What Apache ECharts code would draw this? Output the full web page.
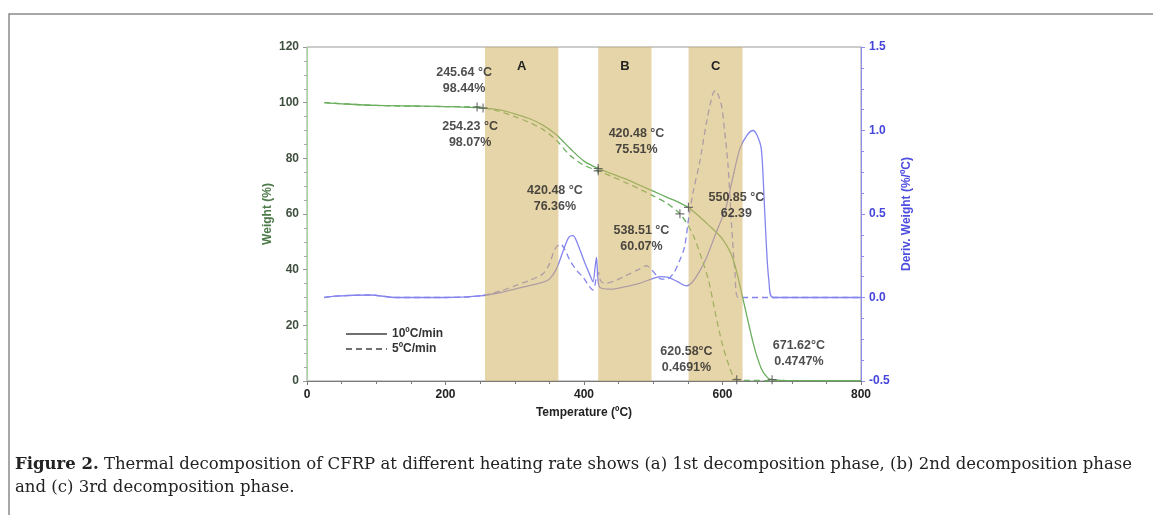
<!DOCTYPE html>
<html><head><meta charset="utf-8">
<script src="https://cdn.jsdelivr.net/npm/echarts@6/dist/echarts.min.js"></script>
<style>html,body{margin:0;padding:0;background:#fff;}#c{width:1153px;height:515px;}</style>
</head><body><div id="c"></div>
<script>
// TG weight loss (%) vs temperature (°C)
const tg10 = [[25,100],[50,99.6],[100,99.0],[150,98.8],[200,98.6],[254.23,98.07],[280,97.3],[300,96],[320,94.4],[340,92],[360,88.5],[380,83.5],[400,79],[420.48,76.36],[440,74.5],[460,72.6],[480,70.4],[500,68.2],[520,66],[540,63.8],[550.85,62.39],[560,60.5],[580,56],[600,51],[615,44],[630,29],[645,13],[656,4.5],[665,1.2],[671.62,0.47],[690,0.2],[800,0.1]];
const tg5 = [[25,100],[100,99],[200,98.6],[245.64,98.44],[270,97.4],[300,95],[320,93],[340,90.5],[360,86.5],[380,81],[400,77.5],[420.48,75.51],[440,73.5],[460,71.3],[480,69],[500,66.5],[520,63.8],[538.51,60.07],[550,56],[560,51],[570,44],[580,36],[590,24],[600,13],[610,5],[615,2],[620.58,0.47],[640,0.2],[800,0.1]];
// DTG (%/°C)
const dtg10 = [[25,0],[40,0.008],[90,0.015],[130,0.0],[200,0.0],[250,0.01],[280,0.03],[300,0.05],[320,0.07],[340,0.09],[350,0.11],[360,0.17],[370,0.28],[378,0.36],[384,0.37],[390,0.33],[400,0.22],[408,0.14],[413,0.094],[416,0.18],[418,0.24],[420,0.12],[423,0.06],[440,0.05],[460,0.065],[480,0.085],[497,0.11],[510,0.125],[522,0.12],[535,0.095],[548,0.07],[556,0.09],[566,0.15],[577,0.24],[590,0.38],[605,0.54],[615,0.72],[625,0.89],[635,0.97],[644,1.0],[650,0.97],[656,0.89],[660,0.6],[663,0.34],[667,0.1],[673,0],[800,0]];
const dtg5 = [[25,0],[40,0.008],[90,0.015],[130,0],[200,0],[250,0.01],[280,0.04],[300,0.07],[320,0.1],[340,0.14],[350,0.2],[358,0.29],[366,0.32],[372,0.29],[380,0.22],[390,0.16],[399,0.12],[407,0.07],[413,0.045],[418,0.12],[421,0.15],[424,0.1],[430,0.085],[445,0.1],[460,0.13],[480,0.17],[490,0.19],[497,0.17],[505,0.13],[512,0.11],[520,0.11],[530,0.15],[538,0.22],[545,0.3],[552,0.5],[558,0.64],[567,0.81],[577,1.05],[586,1.22],[590,1.24],[595,1.2],[599,1.14],[603,1.0],[608,0.79],[613,0.44],[618,0.15],[623,0],[800,0]];
// marked points [temperature, weight]
const markPts = [[245.64,98.44],[254.23,98.07],[420.48,76.36],[420.48,75.51],[538.51,60.07],[550.85,62.39],[620.58,0.4691],[671.62,0.4747]];
// annotation text: [temperature, weight, text]
const notes = [
  [226.8,107.8,'245.64 °C\n98.44%'],
  [235.5,88.7,'254.23 °C\n98.07%'],
  [358,65.4,'420.48 °C\n76.36%'],
  [475.8,85.9,'420.48 °C\n75.51%'],
  [483,51.3,'538.51 °C\n60.07%'],
  [620,63.1,'550.85 °C\n62.39'],
  [548,7.6,'620.58°C\n0.4691%'],
  [710.3,9.9,'671.62°C\n0.4747%']
];
// decomposition phase bands [start, end, name]
const bands = [[257,363,'A'],[420.5,497.5,'B'],[551,629,'C']];
const legendNames = ['10ºC/min','5ºC/min'];
const captionBold = 'Figure 2.';
const captionText = ' Thermal decomposition of CFRP at different heating rate shows (a) 1st decomposition phase, (b) 2nd decomposition phase';
const captionText2 = 'and (c) 3rd decomposition phase.';

const green = '#6aae5e', blue = '#8484ee';
const font = 'Liberation Sans';
const chart = echarts.init(document.getElementById('c'));
chart.setOption({
  backgroundColor:'#fff',
  animation:false,
  title:{left:15,top:453,padding:0,text:'{b|'+captionBold+'}{n|'+captionText+'}\n{n|'+captionText2+'}',
    textStyle:{rich:{b:{fontFamily:'DejaVu Serif',fontWeight:'bold',fontSize:16.5,color:'#222',lineHeight:23},n:{fontFamily:'DejaVu Serif',fontWeight:'normal',fontSize:16.5,color:'#222',lineHeight:23}}}},
  graphic:[{type:'polyline',shape:{points:[[9,515],[9,14],[1153,14]]},style:{stroke:'#8a8a8a',lineWidth:1.5,fill:null}}],
  legend:{orient:'vertical',left:340,top:323,itemWidth:41,itemHeight:12,itemGap:3,data:legendNames,
    itemStyle:{color:'rgba(0,0,0,0)',borderColor:'rgba(0,0,0,0)',borderWidth:0,opacity:0},
    textStyle:{fontFamily:font,fontWeight:'bold',fontSize:12,color:'#333'}},
  grid:{left:307,right:292,top:47,bottom:134,show:true,borderColor:'#9a9a9a',borderWidth:1},
  xAxis:{type:'value',min:0,max:800,interval:200,name:'Temperature (ºC)',nameLocation:'middle',nameGap:26,
    nameTextStyle:{fontFamily:font,fontWeight:'bold',fontSize:12,color:'#222'},
    axisLine:{lineStyle:{color:'#7a7a7a'}},axisTick:{length:4,lineStyle:{color:'#7a7a7a'}},
    minorTick:{show:true,splitNumber:4,length:3,lineStyle:{color:'#7a7a7a'}},splitLine:{show:false},
    axisLabel:{fontFamily:font,fontWeight:'bold',fontSize:12,color:'#222',margin:8}},
  yAxis:[{type:'value',min:0,max:120,interval:20,name:'Weight (%)',nameLocation:'middle',nameGap:33,
    nameTextStyle:{fontFamily:font,fontWeight:'bold',fontSize:12,color:'#4c7a48'},
    axisLine:{show:true,lineStyle:{color:'#a8d8a0'}},axisTick:{show:true,length:4,lineStyle:{color:'#999'}},
    minorTick:{show:true,splitNumber:4,length:3,lineStyle:{color:'#aaa'}},splitLine:{show:false},
    axisLabel:{fontFamily:font,fontWeight:'bold',fontSize:12,color:'#3f4f3f',margin:8}},
   {type:'value',min:-0.5,max:1.5,interval:0.5,position:'right',name:'Deriv. Weight (%/ºC)',nameLocation:'middle',nameGap:40,
    nameTextStyle:{fontFamily:font,fontWeight:'bold',fontSize:12,color:'#4d4de0'},
    axisLine:{show:true,lineStyle:{color:'#8c8cf2'}},axisTick:{show:true,length:4,lineStyle:{color:'#8c8cf2'}},
    minorTick:{show:true,splitNumber:4,length:3,lineStyle:{color:'#8c8cf2'}},splitLine:{show:false},
    axisLabel:{fontFamily:font,fontWeight:'bold',fontSize:12,color:'#4545dc',margin:8,formatter:v=>v.toFixed(1)}}],
  series:[
    {name:'dtg10',type:'line',yAxisIndex:1,data:dtg10,showSymbol:false,symbol:'none',smooth:0.3,z:2,lineStyle:{color:blue,width:1.3}},
    {name:'dtg5',type:'line',yAxisIndex:1,data:dtg5,showSymbol:false,symbol:'none',smooth:0.3,z:2,lineStyle:{color:blue,width:1.3,type:[6,4]}},
    {name:'tg10',type:'line',data:tg10,showSymbol:false,symbol:'none',smooth:0.3,z:2,lineStyle:{color:green,width:1.3}},
    {name:'tg5',type:'line',data:tg5,showSymbol:false,symbol:'none',smooth:0.3,z:2,lineStyle:{color:green,width:1.3,type:[6,4]}},
    {name:'bands',type:'line',data:[],z:4,silent:true,
      markArea:{silent:true,z:4,itemStyle:{color:'rgba(212,178,100,0.55)'},
        label:{show:true,position:'insideTop',distance:13,fontFamily:font,fontWeight:'bold',fontSize:13,color:'#222'},
        data:bands.map(b=>[{xAxis:b[0],name:b[2]},{xAxis:b[1]}])}},
    {name:'marks',type:'scatter',data:markPts,z:6,symbol:'path://M4,0h1.2v4h4v1.2h-4v4h-1.2v-4h-4v-1.2h4z',symbolSize:9,itemStyle:{color:'#505050'}},
    {name:'notes',type:'scatter',z:7,symbolSize:0,data:notes.map(n=>({value:[n[0],n[1]],name:n[2]})),
      label:{show:true,position:'inside',formatter:p=>p.name,fontFamily:font,fontWeight:'bold',fontSize:12.5,lineHeight:16,color:'#222',align:'center'}},
    {name:legendNames[0],type:'line',data:[],symbol:'none',lineStyle:{color:'#707070',width:1.5},itemStyle:{color:'#707070'}},
    {name:legendNames[1],type:'line',data:[],symbol:'none',lineStyle:{color:'#707070',width:1.5,type:[6,4]},itemStyle:{color:'#707070'}}
  ]
});
</script></body></html>
